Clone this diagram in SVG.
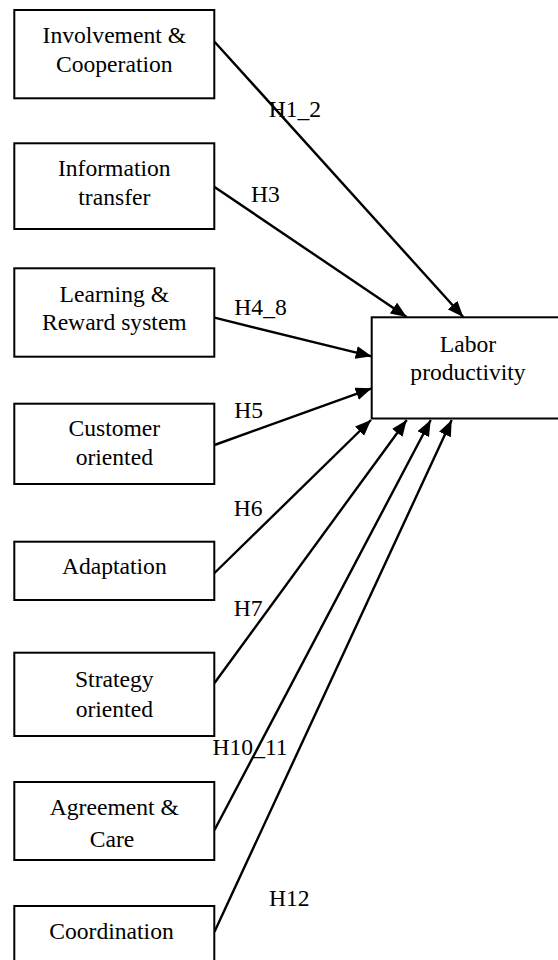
<svg xmlns="http://www.w3.org/2000/svg" width="558" height="960" viewBox="0 0 558 960">
<style>
text{font-family:"Liberation Serif","Times New Roman",serif;font-size:23.6px;fill:#000}
.c{text-anchor:middle}
.box{fill:#fff;stroke:#000;stroke-width:2}
.edge{stroke:#000;stroke-width:2.4;fill:none;marker-end:url(#ah)}
</style>
<defs>
<marker id="ah" markerUnits="userSpaceOnUse" markerWidth="17" markerHeight="13" refX="16" refY="6.5" orient="auto">
<path d="M0,0 L16,6.5 L0,13 Z" fill="#000"/>
</marker>
</defs>
<rect width="558" height="960" fill="#fff"/>
<g id="connectors">
<line class="edge" x1="214.5" y1="41.7" x2="463.3" y2="317"/>
<line class="edge" x1="214.5" y1="187" x2="406.7" y2="317"/>
<line class="edge" x1="214.5" y1="317.7" x2="371.7" y2="356.3"/>
<line class="edge" x1="214.5" y1="445" x2="371.7" y2="388.3"/>
<line class="edge" x1="214.5" y1="573" x2="371" y2="420"/>
<line class="edge" x1="214.5" y1="683" x2="406.7" y2="420"/>
<line class="edge" x1="214.5" y1="830" x2="430.7" y2="420"/>
<line class="edge" x1="214.5" y1="931.7" x2="451.7" y2="420"/>
</g>
<g id="labels">
<text x="268.7" y="116.7">H1_2</text>
<text x="250.9" y="202.3">H3</text>
<text x="234.3" y="315">H4_8</text>
<text x="234.3" y="418.3">H5</text>
<text x="233.8" y="516">H6</text>
<text x="233.8" y="616">H7</text>
<text x="212.5" y="755">H10_11</text>
<text x="269" y="906">H12</text>
</g>
<g id="n1"><rect class="box" x="14.3" y="10" width="200" height="88.3"/><text class="c" x="114.3" y="43.3">Involvement &amp;</text><text class="c" x="114.3" y="71.7">Cooperation</text></g>
<g id="n2"><rect class="box" x="14.3" y="143.3" width="200" height="85.7"/><text class="c" x="114.3" y="175.7">Information</text><text class="c" x="114.3" y="205">transfer</text></g>
<g id="n3"><rect class="box" x="14.3" y="268.3" width="200" height="88.4"/><text class="c" x="114.3" y="301.7">Learning &amp;</text><text class="c" x="114.3" y="330.4">Reward system</text></g>
<g id="n4"><rect class="box" x="14.3" y="403.7" width="200" height="80.3"/><text class="c" x="114.3" y="436">Customer</text><text class="c" x="114.3" y="465">oriented</text></g>
<g id="n5"><rect class="box" x="14.3" y="541.7" width="200" height="58.3"/><text class="c" x="114.3" y="574">Adaptation</text></g>
<g id="n6"><rect class="box" x="14.3" y="652.7" width="200" height="83.3"/><text class="c" x="114.3" y="686.7">Strategy</text><text class="c" x="114.3" y="716.7">oriented</text></g>
<g id="n7"><rect class="box" x="14.3" y="782" width="200" height="78"/><text class="c" x="114.3" y="815">Agreement &amp;</text><text class="c" x="112" y="846.7">Care</text></g>
<g id="n8"><rect class="box" x="14.3" y="906" width="200" height="70"/><text class="c" x="111.5" y="939.3">Coordination</text></g>
<g id="n9"><rect class="box" x="371.7" y="317.3" width="193" height="101.2"/><text class="c" x="468" y="351.7">Labor</text><text class="c" x="468" y="380">productivity</text></g>
</svg>
